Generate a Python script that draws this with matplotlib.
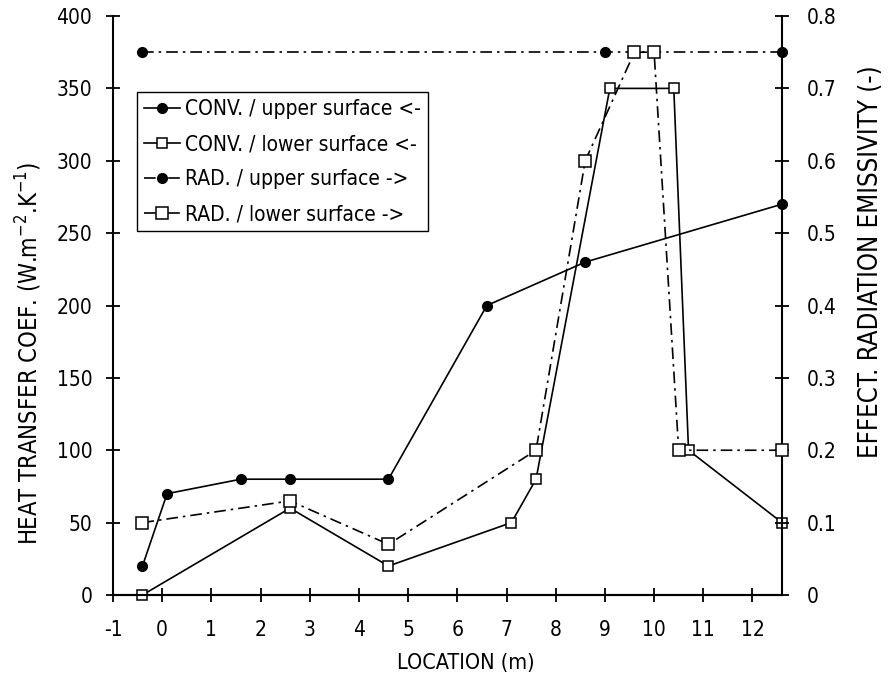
import matplotlib
matplotlib.use('Agg')
import matplotlib.pyplot as plt
from matplotlib.ticker import FuncFormatter

plt.rcParams['font.family'] = ['DejaVu Sans']
plt.rcParams['font.stretch'] = 'condensed'
plt.rcParams['mathtext.default'] = 'regular'
plt.rcParams['axes.unicode_minus'] = False

# convective heat transfer coefficient (left axis)
convUpperX = [-0.4, 0.1, 1.6, 2.6, 4.6, 6.6, 8.6, 12.6]
convUpperY = [20, 70, 80, 80, 80, 200, 230, 270]
convLowerX = [-0.4, 2.6, 4.6, 7.1, 7.6, 9.1, 10.4, 10.7, 12.6]
convLowerY = [0, 60, 20, 50, 80, 350, 350, 100, 50]

# effective radiation emissivity (right axis)
radUpperX = [-0.4, 9.0, 12.6]
radUpperY = [0.75, 0.75, 0.75]
radLowerX = [-0.4, 2.6, 4.6, 7.6, 8.6, 9.6, 10.0, 10.5, 12.6]
radLowerY = [0.10, 0.13, 0.07, 0.20, 0.60, 0.75, 0.75, 0.20, 0.20]

labels = ['CONV. / upper surface <-', 'CONV. / lower surface <-',
          'RAD. / upper surface ->', 'RAD. / lower surface ->']

fig = plt.figure(figsize=(8.93, 6.82), dpi=100)
ax = fig.add_axes([0.1265, 0.1276, 0.7492, 0.8489])
ax2 = ax.twinx()

lw = 1.2
dashdot = (0, (7, 3, 1.5, 3))
l1, = ax.plot(convUpperX, convUpperY, '-', color='black', lw=lw,
              marker='o', ms=7, mfc='black', mec='black', clip_on=False, zorder=3)
l2, = ax.plot(convLowerX, convLowerY, '-', color='black', lw=lw,
              marker='s', ms=7, mfc='white', mec='black', mew=1.1, clip_on=False, zorder=3)
l3, = ax2.plot(radUpperX, radUpperY, linestyle=dashdot, color='black', lw=lw,
               marker='o', ms=7, mfc='black', mec='black', clip_on=False, zorder=3)
l4, = ax2.plot(radLowerX, radLowerY, linestyle=dashdot, color='black', lw=lw,
               marker='s', ms=8.5, mfc='white', mec='black', mew=1.1, clip_on=False, zorder=3)

ax.set_xlim(-1, 12.6)
ax.set_ylim(0, 400)
ax2.set_ylim(0, 0.8)
ax.set_xticks(range(-1, 13))
ax.set_yticks(range(0, 401, 50))
ax2.set_yticks([i / 10 for i in range(9)])
ax2.yaxis.set_major_formatter(FuncFormatter(lambda v, p: '0' if v == 0 else f'{v:.1f}'))

for a in (ax, ax2):
    a.spines['top'].set_visible(False)
    for s in a.spines.values():
        s.set_linewidth(1.5)
    a.tick_params(direction='inout', length=10, width=1.3, labelsize=15)
ax.tick_params(axis='x', pad=13)
ax.tick_params(axis='y', pad=10)
ax2.tick_params(axis='y', pad=13)
ax2.spines['left'].set_visible(False)
ax.spines['right'].set_visible(False)

ax.set_xlabel('LOCATION (m)', fontsize=15.5, va='center')
ax.xaxis.set_label_coords(0.528, -0.117)
ax.set_ylabel(r'HEAT TRANSFER COEF. (W.m$^{-2}$.K$^{-1}$)', fontsize=17, va='center')
ax.yaxis.set_label_coords(-0.126, 0.418)
ax2.set_ylabel('EFFECT. RADIATION EMISSIVITY (-)', fontsize=18.5, va='center')
ax2.yaxis.set_label_coords(1.133, 0.575)

leg = ax.legend([l1, l2, l3, l4], labels, loc='upper left',
                bbox_to_anchor=(0.036, 0.869), borderaxespad=0, fontsize=15,
                fancybox=False, edgecolor='black', framealpha=1, handlelength=1.7,
                borderpad=0.35, labelspacing=0.72, handletextpad=0.25)
leg.get_frame().set_linewidth(1.0)

fig.savefig('out.png', dpi=100)
